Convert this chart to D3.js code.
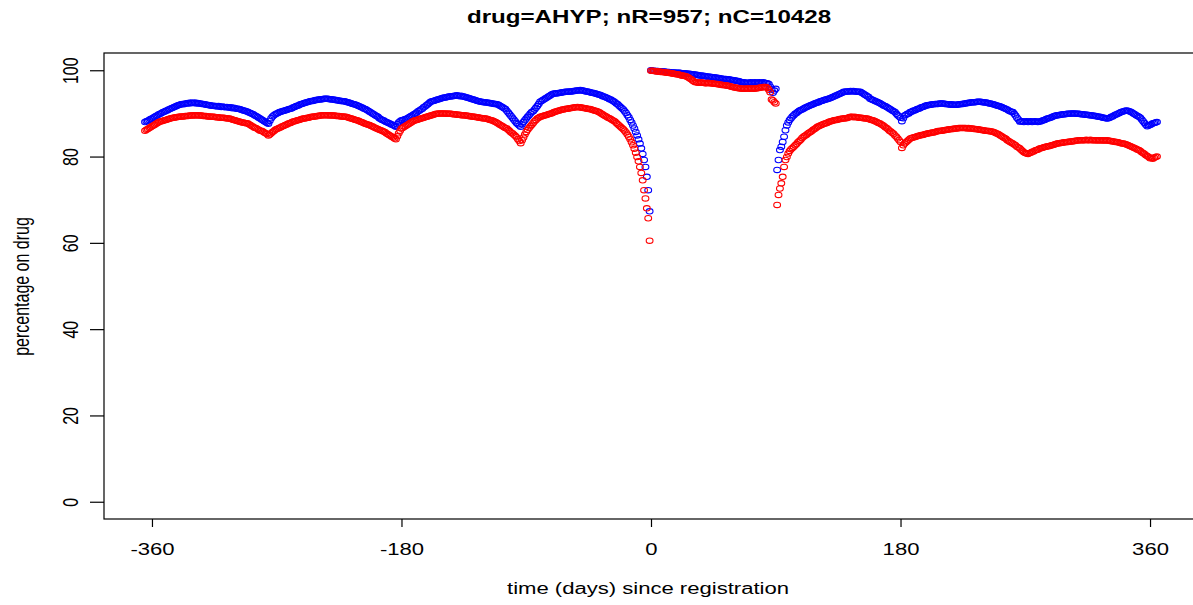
<html>
	<head>
		<meta content="text/html;charset=utf-8" http-equiv="Content-Type">
		<script src="https://d3js.org/d3.v7.min.js"></script>
		<style>
		body { margin: 0; background: #fff; }
		text { font-family: "Liberation Sans", Arial, sans-serif; }
		</style>
	</head>
	<body>
		<div id="stuff">
			<svg width="1193" height="605"></svg>
		</div>
		<script>

	var chartTitle = "drug=AHYP; nR=957; nC=10428";
	var xLabel = "time (days) since registration";
	var yLabel = "percentage on drug";
	var xTicks = [-360, -180, 0, 180, 360];
	var yTicks = [0, 20, 40, 60, 80, 100];

	// one point per day, -365 .. 365
	var days = d3.range(-365, 366);

	var blueSeries = [
		// -365 .. -6
		88.0, 88.2, 88.3, 88.5, 88.7, 88.8, 89.0, 89.2, 89.4, 89.6,
		89.8, 89.9, 90.1, 90.3, 90.4, 90.6, 90.7, 90.9, 91.0, 91.2,
		91.3, 91.5, 91.6, 91.8, 91.9, 92.0, 92.1, 92.2, 92.1, 92.3,
		92.3, 92.4, 92.3, 92.5, 92.4, 92.4, 92.5, 92.3, 92.4, 92.3,
		92.3, 92.2, 92.2, 92.1, 92.0, 92.0, 91.9, 91.9, 91.8, 91.8,
		91.7, 91.7, 91.6, 91.7, 91.6, 91.5, 91.6, 91.5, 91.4, 91.5,
		91.4, 91.3, 91.4, 91.2, 91.3, 91.2, 91.1, 91.1, 91.0, 90.9,
		90.8, 90.7, 90.6, 90.5, 90.4, 90.2, 90.1, 89.9, 89.8, 89.6,
		89.4, 89.2, 89.0, 88.8, 88.6, 88.4, 88.2, 88.0, 87.8, 87.6,
		88.3, 88.9, 89.3, 89.6, 89.8, 90.0, 90.1, 90.3, 90.4, 90.5,
		90.6, 90.7, 90.8, 90.9, 91.0, 91.1, 91.2, 91.4, 91.5, 91.7,
		91.8, 91.9, 92.1, 92.2, 92.3, 92.4, 92.5, 92.6, 92.7, 92.8,
		92.9, 92.9, 93.0, 93.1, 93.1, 93.2, 93.2, 93.3, 93.3, 93.4,
		93.4, 93.4, 93.4, 93.3, 93.3, 93.2, 93.2, 93.1, 93.1, 93.0,
		93.0, 92.9, 92.9, 92.8, 92.8, 92.7, 92.6, 92.5, 92.4, 92.3,
		92.2, 92.1, 92.0, 91.9, 91.7, 91.6, 91.4, 91.3, 91.1, 91.0,
		90.8, 90.6, 90.4, 90.2, 90.0, 89.8, 89.6, 89.4, 89.2, 88.9,
		88.7, 88.5, 88.4, 88.2, 88.0, 87.9, 87.7, 87.6, 87.4, 87.3,
		87.1, 86.9, 87.5, 87.9, 88.2, 88.4, 88.5, 88.6, 88.7, 88.8,
		89.0, 89.2, 89.4, 89.6, 89.8, 90.0, 90.2, 90.5, 90.7, 90.9,
		91.1, 91.4, 91.6, 91.9, 92.1, 92.4, 92.7, 92.8, 92.9, 93.0,
		93.1, 93.2, 93.3, 93.4, 93.5, 93.6, 93.7, 93.7, 93.8, 93.9,
		93.9, 94.0, 94.0, 94.1, 94.1, 94.2, 94.1, 94.0, 94.1, 93.9,
		93.9, 93.8, 93.7, 93.6, 93.5, 93.4, 93.3, 93.2, 93.1, 93.0,
		92.9, 92.8, 92.7, 92.7, 92.6, 92.6, 92.5, 92.5, 92.4, 92.4,
		92.3, 92.3, 92.2, 92.2, 92.1, 92.0, 91.8, 91.6, 91.4, 91.2,
		91.0, 90.6, 90.2, 89.8, 89.4, 89.0, 88.6, 88.2, 87.8, 87.5,
		87.2, 86.9, 87.5, 88.0, 88.4, 88.8, 89.2, 89.6, 90.0, 90.3,
		90.5, 90.9, 91.3, 91.7, 92.2, 92.7, 92.9, 93.1, 93.3, 93.5,
		93.7, 93.9, 94.1, 94.3, 94.5, 94.6, 94.6, 94.7, 94.7, 94.8,
		94.8, 94.9, 94.9, 95.0, 95.0, 95.0, 95.1, 95.1, 95.1, 95.2,
		95.2, 95.3, 95.3, 95.3, 95.4, 95.3, 95.3, 95.2, 95.1, 95.1,
		95.0, 94.9, 94.8, 94.8, 94.7, 94.6, 94.5, 94.4, 94.3, 94.2,
		94.0, 93.9, 93.8, 93.6, 93.5, 93.3, 93.2, 93.0, 92.8, 92.6,
		92.3, 92.1, 91.8, 91.5, 91.2, 90.9, 90.5, 90.1, 89.6, 89.1,
		88.5, 87.9, 87.2, 86.5, 85.7, 84.9, 84.0, 83.0, 81.9, 80.6,
		// -5 .. -1
		79.2, 77.6, 75.3, 72.2, 67.3,
		// 0 .. 359
		100.0, 99.9, 99.9, 99.8, 99.8, 99.8, 99.7, 99.7, 99.7, 99.7,
		99.7, 99.6, 99.6, 99.6, 99.5, 99.5, 99.5, 99.5, 99.4, 99.4,
		99.4, 99.4, 99.3, 99.3, 99.3, 99.3, 99.2, 99.2, 99.2, 99.1,
		99.1, 99.0, 99.0, 98.9, 98.9, 98.8, 98.8, 98.7, 98.7, 98.6,
		98.6, 98.5, 98.5, 98.5, 98.4, 98.4, 98.3, 98.3, 98.2, 98.2,
		98.1, 98.1, 98.0, 98.0, 98.0, 97.9, 97.9, 97.8, 97.8, 97.7,
		97.7, 97.6, 97.5, 97.5, 97.4, 97.3, 97.2, 97.2, 97.1, 97.1,
		97.1, 97.1, 97.2, 97.1, 97.1, 97.2, 97.1, 97.1, 97.2, 97.1,
		97.1, 97.2, 97.1, 97.0, 97.0, 96.8, 96.2, 95.6, 94.8, 95.3,
		95.7, 76.9, 79.2, 81.5, 82.3, 83.4, 84.6, 86.1, 87.2, 87.9,
		88.5, 88.9, 89.3, 89.6, 89.9, 90.1, 90.4, 90.6, 90.8, 90.9,
		91.1, 91.3, 91.4, 91.6, 91.7, 91.9, 92.0, 92.1, 92.3, 92.4,
		92.5, 92.6, 92.8, 92.9, 93.0, 93.1, 93.2, 93.3, 93.4, 93.5,
		93.6, 93.8, 93.9, 94.1, 94.2, 94.4, 94.5, 94.7, 94.8, 95.0,
		95.0, 95.1, 95.1, 95.1, 95.2, 95.1, 95.2, 95.1, 95.1, 95.0,
		95.0, 95.0, 94.8, 94.6, 94.4, 94.2, 94.0, 93.8, 93.4, 93.3,
		93.1, 93.0, 92.8, 92.7, 92.5, 92.4, 92.2, 92.0, 91.8, 91.7,
		91.5, 91.3, 91.1, 90.9, 90.7, 90.5, 90.3, 89.9, 89.6, 89.3,
		89.0, 88.2, 88.9, 89.5, 89.7, 89.9, 90.0, 90.3, 90.4, 90.6,
		90.7, 90.8, 91.0, 91.1, 91.2, 91.4, 91.5, 91.6, 91.8, 91.9,
		91.9, 92.0, 92.0, 92.1, 92.1, 92.2, 92.2, 92.2, 92.3, 92.3,
		92.3, 92.3, 92.2, 92.2, 92.1, 92.1, 92.0, 92.1, 92.0, 92.0,
		92.0, 92.0, 92.1, 92.1, 92.2, 92.2, 92.3, 92.3, 92.4, 92.4,
		92.5, 92.5, 92.6, 92.6, 92.6, 92.7, 92.7, 92.7, 92.7, 92.6,
		92.6, 92.5, 92.5, 92.4, 92.3, 92.3, 92.2, 92.1, 92.0, 91.9,
		91.8, 91.7, 91.6, 91.5, 91.3, 91.2, 91.0, 90.9, 90.7, 90.5,
		90.4, 90.3, 89.9, 89.5, 89.0, 88.6, 88.1, 88.1, 88.2, 88.0,
		88.1, 88.2, 88.0, 88.1, 88.2, 88.0, 88.1, 88.2, 88.1, 88.0,
		88.1, 88.1, 88.3, 88.4, 88.5, 88.7, 88.8, 88.9, 89.0, 89.1,
		89.3, 89.4, 89.5, 89.6, 89.6, 89.7, 89.7, 89.8, 89.8, 89.8,
		89.9, 89.9, 89.9, 90.0, 90.0, 90.0, 90.0, 89.9, 89.9, 89.9,
		89.8, 89.8, 89.8, 89.7, 89.7, 89.7, 89.6, 89.6, 89.5, 89.5,
		89.4, 89.4, 89.3, 89.2, 89.2, 89.1, 89.0, 89.0, 88.9, 88.8,
		88.9, 89.0, 89.2, 89.3, 89.5, 89.7, 89.8, 90.0, 90.1, 90.3,
		90.4, 90.5, 90.6, 90.7, 90.6, 90.5, 90.4, 90.2, 90.0, 89.8,
		89.6, 89.4, 89.2, 89.0, 88.6, 88.2, 87.8, 87.4, 87.0, 87.2,
		// 360 .. 365
		87.3, 87.5, 87.7, 87.8, 87.9, 88.0
	];

	var redSeries = [
		// -365 .. -6
		86.0, 86.2, 86.4, 86.6, 86.8, 87.0, 87.2, 87.4, 87.6, 87.8,
		88.0, 88.1, 88.2, 88.3, 88.4, 88.5, 88.6, 88.7, 88.8, 88.9,
		89.0, 89.0, 89.1, 89.1, 89.2, 89.2, 89.3, 89.3, 89.3, 89.4,
		89.4, 89.4, 89.5, 89.5, 89.5, 89.6, 89.5, 89.6, 89.6, 89.5,
		89.5, 89.5, 89.4, 89.4, 89.4, 89.3, 89.3, 89.3, 89.2, 89.2,
		89.2, 89.1, 89.1, 89.1, 89.0, 89.0, 89.0, 89.0, 88.9, 88.9,
		88.8, 88.8, 88.7, 88.6, 88.5, 88.4, 88.3, 88.2, 88.1, 88.0,
		87.9, 87.9, 87.8, 87.7, 87.7, 87.5, 87.3, 87.1, 86.9, 86.7,
		86.6, 86.4, 86.2, 86.0, 86.0, 85.8, 85.6, 85.4, 85.2, 84.9,
		85.1, 85.4, 85.7, 85.9, 86.2, 86.4, 86.5, 86.7, 86.8, 87.0,
		87.1, 87.3, 87.4, 87.6, 87.7, 87.8, 88.0, 88.1, 88.2, 88.3,
		88.4, 88.5, 88.6, 88.7, 88.8, 88.8, 88.9, 89.0, 89.0, 89.1,
		89.2, 89.2, 89.3, 89.3, 89.4, 89.4, 89.5, 89.5, 89.6, 89.6,
		89.6, 89.6, 89.6, 89.5, 89.6, 89.5, 89.5, 89.5, 89.4, 89.4,
		89.4, 89.3, 89.3, 89.3, 89.2, 89.2, 89.1, 89.0, 88.9, 88.8,
		88.7, 88.6, 88.5, 88.4, 88.3, 88.1, 88.0, 87.9, 87.7, 87.6,
		87.5, 87.4, 87.3, 87.1, 87.0, 86.8, 86.7, 86.5, 86.4, 86.2,
		86.1, 86.0, 85.8, 85.7, 85.4, 85.2, 85.0, 84.8, 84.6, 84.4,
		84.2, 84.0, 84.7, 85.4, 86.0, 86.5, 86.7, 86.9, 87.1, 87.3,
		87.5, 87.7, 87.9, 88.1, 88.3, 88.4, 88.5, 88.6, 88.7, 88.8,
		88.9, 89.0, 89.1, 89.2, 89.3, 89.4, 89.5, 89.6, 89.7, 89.8,
		89.9, 89.9, 90.0, 90.0, 90.0, 90.0, 90.0, 89.9, 90.0, 89.9,
		89.9, 89.9, 89.8, 89.8, 89.8, 89.7, 89.7, 89.7, 89.6, 89.6,
		89.6, 89.5, 89.5, 89.4, 89.4, 89.3, 89.3, 89.2, 89.2, 89.1,
		89.1, 89.0, 89.0, 88.9, 88.9, 88.8, 88.8, 88.7, 88.6, 88.5,
		88.4, 88.3, 88.1, 88.0, 87.8, 87.6, 87.4, 87.2, 87.0, 86.8,
		86.6, 86.5, 86.2, 85.9, 85.6, 85.4, 85.1, 84.8, 84.5, 84.0,
		83.6, 83.1, 83.8, 84.4, 85.1, 85.7, 86.2, 86.6, 87.0, 87.4,
		87.8, 88.2, 88.5, 88.8, 89.0, 89.2, 89.3, 89.4, 89.5, 89.6,
		89.7, 89.8, 89.9, 90.0, 90.1, 90.3, 90.4, 90.5, 90.6, 90.7,
		90.8, 90.9, 90.9, 91.0, 91.1, 91.1, 91.2, 91.2, 91.3, 91.3,
		91.4, 91.4, 91.5, 91.4, 91.4, 91.3, 91.3, 91.2, 91.2, 91.1,
		91.0, 91.0, 90.9, 90.8, 90.7, 90.6, 90.5, 90.4, 90.2, 90.0,
		89.8, 89.6, 89.4, 89.2, 89.0, 88.9, 88.7, 88.5, 88.3, 88.1,
		87.8, 87.5, 87.2, 86.9, 86.6, 86.3, 86.0, 85.6, 85.1, 84.6,
		84.0, 83.3, 82.6, 81.8, 80.9, 79.9, 78.9, 77.6, 76.2, 74.5,
		// -5 .. -1
		72.2, 70.3, 68.0, 65.7, 60.5,
		// 0 .. 359
		99.9, 99.9, 99.8, 99.8, 99.7, 99.7, 99.7, 99.6, 99.6, 99.6,
		99.5, 99.5, 99.4, 99.4, 99.3, 99.3, 99.2, 99.2, 99.1, 99.1,
		99.0, 98.9, 98.8, 98.7, 98.7, 98.6, 98.5, 98.3, 98.1, 97.9,
		97.6, 97.4, 97.2, 97.2, 97.1, 97.1, 97.2, 97.1, 97.1, 97.0,
		97.0, 97.1, 97.0, 97.0, 97.0, 96.9, 96.9, 96.8, 96.8, 96.7,
		96.7, 96.6, 96.6, 96.5, 96.5, 96.4, 96.4, 96.3, 96.2, 96.1,
		96.0, 96.0, 95.9, 95.9, 95.8, 95.8, 95.7, 95.7, 95.7, 95.8,
		95.8, 95.7, 95.8, 95.8, 95.7, 95.8, 95.8, 95.9, 95.9, 96.0,
		96.0, 96.1, 96.1, 96.1, 95.9, 95.5, 94.9, 93.2, 93.0, 92.6,
		92.3, 68.8, 71.1, 72.6, 73.8, 75.3, 77.6, 79.2, 79.9, 80.7,
		81.3, 81.7, 82.0, 82.3, 82.6, 82.9, 83.3, 83.6, 83.9, 84.3,
		84.6, 84.8, 85.0, 85.3, 85.5, 85.7, 85.9, 86.2, 86.4, 86.6,
		86.9, 87.0, 87.2, 87.3, 87.5, 87.6, 87.7, 87.8, 88.0, 88.1,
		88.2, 88.3, 88.4, 88.5, 88.5, 88.6, 88.7, 88.7, 88.8, 88.8,
		88.9, 88.9, 89.0, 89.1, 89.2, 89.2, 89.1, 89.2, 89.1, 89.1,
		89.0, 89.0, 89.0, 88.9, 88.9, 88.8, 88.8, 88.7, 88.6, 88.5,
		88.4, 88.3, 88.1, 88.0, 87.8, 87.7, 87.5, 87.3, 87.1, 86.8,
		86.6, 86.3, 86.0, 85.8, 85.5, 85.3, 84.9, 84.6, 84.2, 83.8,
		83.4, 82.0, 82.6, 83.0, 83.3, 83.6, 83.9, 84.2, 84.3, 84.4,
		84.5, 84.6, 84.7, 84.8, 84.9, 85.0, 85.0, 85.1, 85.2, 85.3,
		85.4, 85.4, 85.5, 85.6, 85.6, 85.7, 85.8, 85.9, 85.9, 86.0,
		86.0, 86.1, 86.1, 86.2, 86.2, 86.3, 86.3, 86.4, 86.4, 86.5,
		86.5, 86.5, 86.6, 86.6, 86.6, 86.6, 86.6, 86.6, 86.5, 86.6,
		86.5, 86.5, 86.5, 86.4, 86.4, 86.3, 86.3, 86.2, 86.2, 86.1,
		86.1, 86.0, 86.0, 85.9, 85.9, 85.8, 85.8, 85.7, 85.6, 85.4,
		85.3, 85.1, 84.9, 84.7, 84.5, 84.3, 84.1, 83.8, 83.6, 83.4,
		83.2, 83.0, 82.8, 82.6, 82.3, 82.1, 81.9, 81.6, 81.3, 81.0,
		80.8, 80.7, 80.6, 80.8, 80.9, 81.1, 81.2, 81.4, 81.5, 81.6,
		81.8, 81.9, 82.0, 82.1, 82.2, 82.3, 82.4, 82.4, 82.5, 82.6,
		82.7, 82.8, 82.9, 83.0, 83.1, 83.1, 83.2, 83.2, 83.3, 83.3,
		83.4, 83.4, 83.5, 83.5, 83.5, 83.6, 83.6, 83.7, 83.7, 83.8,
		83.8, 83.8, 83.8, 83.8, 83.9, 83.8, 83.8, 83.9, 83.8, 83.8,
		83.8, 83.8, 83.7, 83.8, 83.8, 83.7, 83.8, 83.7, 83.7, 83.8,
		83.7, 83.6, 83.6, 83.5, 83.5, 83.4, 83.4, 83.3, 83.2, 83.1,
		83.0, 83.0, 82.9, 82.8, 82.7, 82.5, 82.4, 82.2, 82.1, 81.9,
		81.8, 81.6, 81.5, 81.3, 81.0, 80.8, 80.6, 80.3, 80.1, 79.9,
		// 360 .. 365
		79.6, 79.7, 79.5, 79.7, 79.9, 80.0
	];

	drawChart();

	function drawChart() {
		var svg = d3.select("#stuff").select("svg");
		// the picture is stretched sideways, so text is too
		var stretch = 1.38;
		var fontSize = 16;
		var plotLeft = 104, plotRight = 1198, plotTop = 53, plotBottom = 519;

		var x = d3.scaleLinear().domain([-394.6, 394.6]).range([plotLeft, plotRight]);
		var y = d3.scaleLinear().domain([-4, 104]).range([plotBottom, plotTop]);

		// box
		svg.append("rect")
			.attr("x", plotLeft)
			.attr("y", plotTop)
			.attr("width", plotRight - plotLeft)
			.attr("height", plotBottom - plotTop)
			.attr("fill", "none")
			.attr("stroke", "#000")
			.attr("stroke-width", 1.2);

		// x axis
		var xAxis = svg.append("g")
			.attr("transform", "translate(0," + plotBottom + ")")
			.call(d3.axisBottom(x).tickValues(xTicks).tickSize(8).tickSizeOuter(0).tickFormat(d3.format("d")));
		xAxis.select(".domain").remove();
		xAxis.selectAll("line").attr("stroke", "#000").attr("stroke-width", 1.2);
		xAxis.selectAll("text")
			.attr("y", 36)
			.attr("dy", 0)
			.attr("fill", "#000")
			.style("font-size", fontSize + "px")
			.attr("transform", "scale(" + stretch + ",1)")
			.text(function(d){ return d < 0 ? "-" + Math.abs(d) : d; });

		// y axis
		var yAxis = svg.append("g")
			.attr("transform", "translate(" + plotLeft + ",0)")
			.call(d3.axisLeft(y).tickValues(yTicks).tickSize(14).tickSizeOuter(0));
		yAxis.select(".domain").remove();
		yAxis.selectAll("line").attr("stroke", "#000").attr("stroke-width", 1.2);
		yAxis.selectAll("text")
			.attr("x", 0)
			.attr("y", 0)
			.attr("dy", 0)
			.attr("fill", "#000")
			.style("font-size", fontSize + "px")
			.style("text-anchor", "middle")
			.attr("transform", "translate(-26,0) scale(" + stretch + ",1) rotate(-90)");

		// titles
		svg.append("text")
			.attr("transform", "translate(649,23) scale(" + stretch + ",1)")
			.style("font-size", "17.5px")
			.style("font-weight", "bold")
			.style("text-anchor", "middle")
			.attr("fill", "#000")
			.text(chartTitle);
		svg.append("text")
			.attr("transform", "translate(648,594) scale(" + stretch + ",1)")
			.style("font-size", fontSize + "px")
			.style("text-anchor", "middle")
			.attr("fill", "#000")
			.text(xLabel);
		svg.append("text")
			.attr("transform", "translate(29,286.5) scale(" + stretch + ",1) rotate(-90)")
			.style("font-size", fontSize + "px")
			.style("text-anchor", "middle")
			.attr("fill", "#000")
			.text(yLabel);

		// open circles, blue first then red on top
		var seriesList = [
			{ values: blueSeries, colour: "#0000ff" },
			{ values: redSeries, colour: "#ff0000" }
		];
		seriesList.forEach(function(series){
			svg.append("g")
				.selectAll("ellipse")
				.data(days)
				.enter()
				.append("ellipse")
				.attr("cx", function(d, i){ return x(d); })
				.attr("cy", function(d, i){ return y(series.values[i]); })
				.attr("rx", 3.4)
				.attr("ry", 2.7)
				.attr("fill", "none")
				.attr("stroke", series.colour)
				.attr("stroke-width", 1.1);
		});
	}

		</script>
	</body>
</html>
